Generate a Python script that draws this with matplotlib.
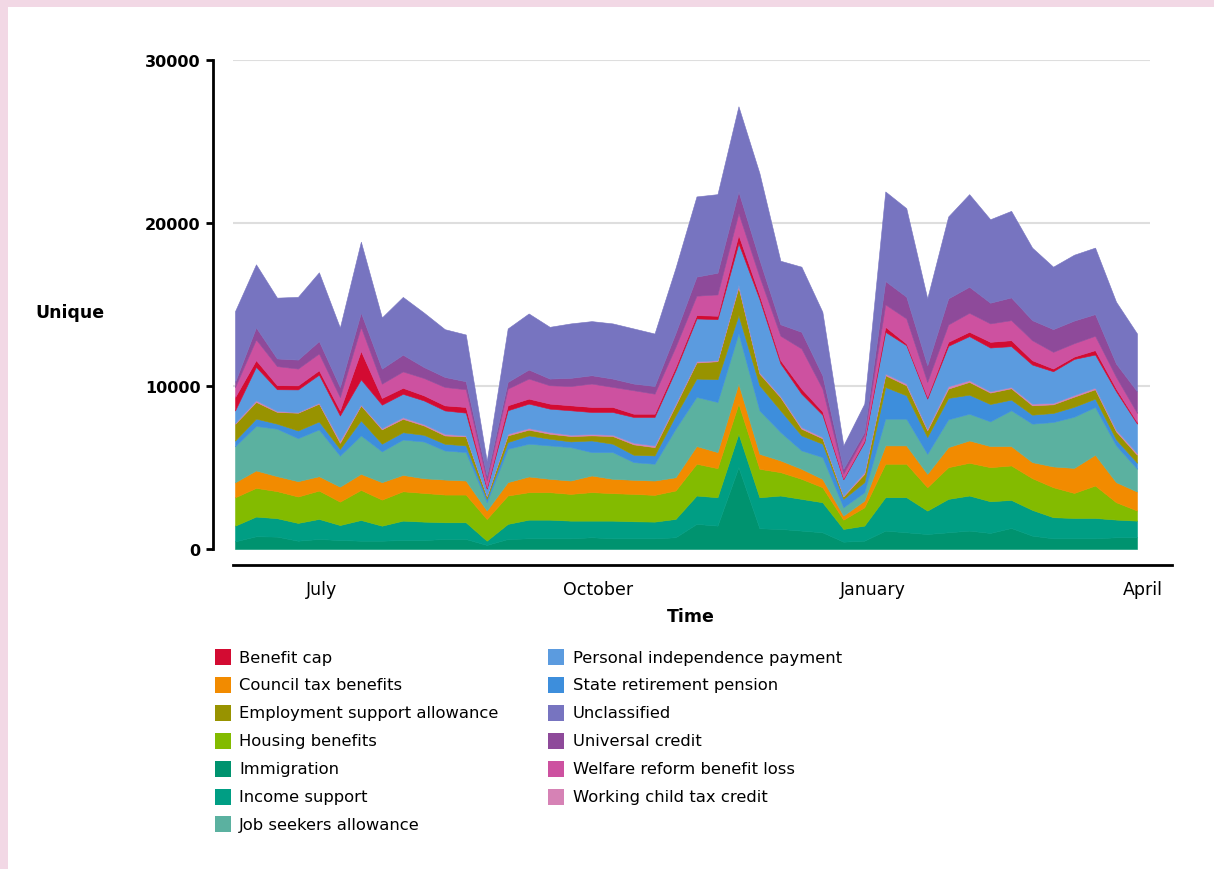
import matplotlib
matplotlib.use("Agg")
import matplotlib.pyplot as plt
import matplotlib.dates as mdates
from matplotlib.patches import Rectangle
import pandas as pd

# ---------------- data (weekly counts) ----------------
dates = pd.date_range("2014-06-02", periods=44, freq="7D")

immigration = [470, 780, 760, 510, 615, 550, 510, 510, 550, 550, 615, 615, 250, 615, 655, 655, 655, 720, 655, 655, 655, 720,
               1540, 1435, 5020, 1270, 1230, 1130, 1025, 450, 510, 1130, 1025, 920, 1025, 1130, 985, 1290, 820, 655, 655, 655, 720, 720]
income_support = [960, 1210, 1130, 1090, 1230, 920, 1270, 920, 1190, 1130, 1025, 1025, 260, 925, 1145, 1145, 1085, 1020, 1085, 1045, 1025, 1125,
                  1740, 1740, 2050, 1905, 2050, 1945, 1845, 780, 925, 2050, 2155, 1435, 2050, 2150, 1945, 1720, 1580, 1295, 1250, 1250, 1085, 1020]
housing_benefits = [1740, 1760, 1660, 1620, 1740, 1435, 1845, 1600, 1800, 1760, 1700, 1700, 1330, 1740, 1685, 1685, 1640, 1750, 1685, 1680, 1640, 1745,
                    1950, 1785, 1850, 1745, 1435, 1230, 920, 570, 1125, 2050, 2050, 1435, 1945, 2010, 2090, 2115, 1945, 1840, 1535, 1990, 1065, 620]
council_tax = [920, 1070, 920, 940, 880, 920, 985, 1070, 1005, 900, 920, 860, 520, 820, 965, 820, 820, 1020, 880, 865, 880, 810,
               1085, 985, 1230, 920, 720, 615, 510, 250, 410, 1125, 1125, 820, 1230, 1370, 1295, 1190, 985, 1275, 1535, 1885, 1230, 1165]
job_seekers = [2210, 2730, 2910, 2640, 2870, 1905, 2360, 1890, 2170, 2255, 1785, 1745, 510, 2050, 2010, 2050, 2050, 1435, 1640, 1085, 1030, 2980,
               3015, 3075, 3070, 2670, 1740, 1130, 1340, 510, 515, 1640, 1640, 1230, 1705, 1640, 1515, 2195, 2360, 2725, 3140, 2930, 2255, 1395]
state_pension = [350, 450, 310, 470, 490, 410, 920, 470, 450, 410, 410, 410, 200, 410, 510, 410, 350, 715, 515, 450, 510, 820,
                 1125, 1395, 1130, 1535, 1330, 920, 820, 515, 615, 1945, 1435, 1030, 1310, 1170, 1065, 655, 550, 555, 610, 515, 370, 370]
employment_support = [1025, 1025, 720, 1090, 1090, 370, 920, 880, 820, 575, 510, 555, 170, 410, 350, 305, 330, 310, 470, 640, 510, 620,
                      985, 1105, 1720, 715, 800, 410, 330, 150, 510, 720, 615, 410, 575, 780, 700, 695, 575, 530, 620, 575, 490, 490]
working_child_tax = [60, 100, 60, 40, 60, 140, 60, 80, 100, 80, 100, 60, 40, 100, 100, 105, 80, 80, 80, 100, 105, 100,
                     80, 60, 125, 80, 80, 100, 80, 55, 105, 100, 105, 100, 145, 105, 80, 80, 105, 85, 100, 100, 105, 105]
personal_independence = [760, 2050, 1330, 1390, 1720, 1540, 1540, 1435, 1435, 1455, 1435, 1395, 420, 1440, 1500, 1435, 1500, 1355, 1395, 1580, 1745, 2050,
                         2625, 2520, 2565, 4490, 2000, 2050, 1370, 1000, 1845, 2565, 2355, 1845, 2480, 2705, 2685, 2505, 2395, 1945, 2215, 2030, 2355, 1805]
benefit_cap = [820, 410, 250, 250, 270, 310, 1740, 410, 370, 310, 310, 350, 60, 305, 305, 310, 305, 310, 310, 200, 200, 205,
               205, 210, 510, 250, 200, 310, 200, 50, 100, 305, 100, 105, 245, 265, 350, 365, 265, 165, 145, 270, 165, 100]
welfare_reform = [615, 1270, 1170, 1030, 1030, 820, 1475, 880, 1005, 1065, 1130, 1085, 440, 1025, 1230, 1125, 1185, 1435, 1230, 1440, 1230, 1230,
                  1190, 1310, 1330, 1130, 1500, 2460, 1400, 300, 310, 1375, 1540, 920, 1065, 1165, 1130, 1230, 1230, 1025, 820, 880, 720, 555]
universal_credit = [310, 740, 470, 550, 760, 615, 880, 920, 1025, 675, 615, 490, 300, 410, 555, 410, 500, 510, 510, 410, 470, 845,
                    1170, 1330, 1335, 1040, 700, 1025, 820, 290, 205, 1435, 1335, 1025, 1600, 1600, 1270, 1395, 1230, 1395, 1390, 1330, 815, 1330]
unclassified = [4350, 3870, 3730, 3850, 4220, 3650, 4350, 3140, 3545, 3340, 2930, 2870, 900, 3280, 3440, 3175, 3340, 3320, 3385, 3380, 3220, 3995,
                4920, 4820, 5225, 5310, 3900, 3995, 3895, 1435, 1745, 5495, 5430, 4100, 5025, 5680, 5120, 5310, 4450, 3830, 4040, 4080, 3795, 3545]

# stacking order, bottom to top
stack_names = ["Immigration", "Income support", "Housing benefits", "Council tax benefits",
               "Job seekers allowance", "State retirement pension", "Employment support allowance",
               "Working child tax credit", "Personal independence payment", "Benefit cap",
               "Welfare reform benefit loss", "Universal credit", "Unclassified"]
stack_values = [immigration, income_support, housing_benefits, council_tax, job_seekers, state_pension,
                employment_support, working_child_tax, personal_independence, benefit_cap,
                welfare_reform, universal_credit, unclassified]

colors = {
    "Benefit cap": "#d30b32",
    "Council tax benefits": "#f28b00",
    "Employment support allowance": "#989300",
    "Housing benefits": "#83bb00",
    "Immigration": "#00936f",
    "Income support": "#009e84",
    "Job seekers allowance": "#5bb1a0",
    "Personal independence payment": "#5b9bdf",
    "State retirement pension": "#3d8edc",
    "Unclassified": "#7774c0",
    "Universal credit": "#8e4a9a",
    "Welfare reform benefit loss": "#cd51a0",
    "Working child tax credit": "#d682b5",
}
legend_names = sorted(stack_names)

y_ticks = [0, 10000, 20000, 30000]
x_tick_dates = pd.to_datetime(["2014-07-01", "2014-10-01", "2015-01-01", "2015-04-01"])
x_tick_labels = ["July", "October", "January", "April"]

# ---------------- figure ----------------
W, H = 1214, 870
plt.rcParams["font.family"] = ["DejaVu Sans"]
fig = plt.figure(figsize=(W / 100, H / 100), dpi=100)
fig.patch.set_facecolor("#f2d8e5")
fig.add_artist(Rectangle((8 / W, 0), 1 - 8 / W, 1 - 8 / H, transform=fig.transFigure,
                         facecolor="white", edgecolor="none", zorder=-5))

ax = fig.add_axes([213 / W, 1 - 566 / H, (1172 - 213) / W, (566 - 61) / H])
ax.set_facecolor("none")

d0 = mdates.date2num(dates[0])
d1 = mdates.date2num(dates[-1])
ppd = (1137 - 235) / (d1 - d0)


def px_to_x(px):
    return d0 + (px - 235) / ppd


y_per_px = 30000 / (550 - 61)
ax.set_xlim(px_to_x(213), px_to_x(1172))
ax.set_ylim(-(566 - 550) * y_per_px, 30000)

ax.hlines([10000, 20000, 30000], px_to_x(233), px_to_x(1150), color="#dedede", lw=1.5, zorder=0)

ax.stackplot(mdates.date2num(dates), *stack_values, colors=[colors[n] for n in stack_names],
             linewidth=0.4, edgecolor="face", zorder=2)

for s in ["top", "right"]:
    ax.spines[s].set_visible(False)
ax.spines["left"].set_bounds(0, 30000)
ax.spines["left"].set_linewidth(2)
ax.spines["bottom"].set_bounds(px_to_x(233), px_to_x(1172))
ax.spines["bottom"].set_linewidth(2)

ax.set_yticks(y_ticks)
ax.set_yticklabels([str(v) for v in y_ticks], fontsize=11.5, fontweight="bold")
ax.tick_params(axis="y", length=5, width=2, pad=4)
ax.set_xticks(mdates.date2num(x_tick_dates))
ax.set_xticklabels(x_tick_labels, fontsize=12.5)
ax.tick_params(axis="x", length=0, pad=11)

fig.text(35 / W, 1 - 313 / H, "Unique", ha="left", va="center", fontsize=12.5, fontweight="bold")
fig.text(691 / W, 1 - 617 / H, "Time", ha="center", va="center", fontsize=12.5, fontweight="bold")

# legend (two columns)
for i, name in enumerate(legend_names):
    col, row = divmod(i, 7)
    sx = 215 if col == 0 else 548
    tx = 239 if col == 0 else 573
    yc = 658 + row * 27.9
    fig.add_artist(Rectangle((sx / W, 1 - (yc + 8) / H), 16 / W, 16 / H, transform=fig.transFigure,
                             facecolor=colors[name], edgecolor="none"))
    fig.text(tx / W, 1 - yc / H, name, ha="left", va="center", fontsize=11.8)

fig.savefig("out.png", dpi=100, facecolor=fig.get_facecolor())
